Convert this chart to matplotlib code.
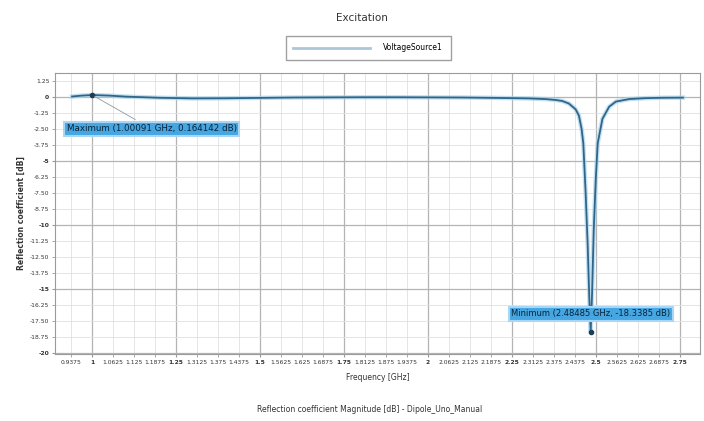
import numpy as np
import matplotlib.pyplot as plt
from matplotlib.ticker import MultipleLocator, FuncFormatter

# Frequency sweep (GHz) and reflection coefficient (dB)
freq = [0.94, 0.97, 1.00, 1.05, 1.10, 1.20, 1.30, 1.40, 1.50, 1.60, 1.70,
        1.80, 1.90, 2.00, 2.10, 2.20, 2.30, 2.35, 2.38, 2.40, 2.42, 2.44,
        2.45, 2.458, 2.463, 2.470, 2.476, 2.481, 2.485, 2.489, 2.494, 2.500,
        2.506, 2.52, 2.54, 2.56, 2.60, 2.65, 2.70, 2.76]
refl_db = [0.05, 0.12, 0.164, 0.12, 0.04, -0.05, -0.10, -0.09, -0.06, -0.03,
           -0.02, -0.01, -0.01, -0.02, -0.03, -0.06, -0.10, -0.15, -0.22,
           -0.30, -0.50, -0.95, -1.45, -2.50, -3.60, -7.50, -11.5, -15.8,
           -18.34, -15.5, -10.5, -6.5, -3.6, -1.7, -0.75, -0.35, -0.15, -0.08,
           -0.05, -0.04]

max_pt = (1.00, 0.164)
min_pt = (2.485, -18.34)
max_text = "Maximum (1.00091 GHz, 0.164142 dB)"
min_text = "Minimum (2.48485 GHz, -18.3385 dB)"

fig = plt.figure(figsize=(7.04, 4.21), dpi=100)
ax = fig.add_axes([0.078, 0.159, 0.916, 0.668])

ax.plot(freq, refl_db, color="#a8d4ee", lw=3.2, alpha=0.7, zorder=3)
ax.plot(freq, refl_db, color="#2f6688", lw=1.3, zorder=4, label="VoltageSource1")

ax.set_xlim(0.889, 2.81)
ax.set_ylim(-20.1, 1.9)

ax.xaxis.set_major_locator(MultipleLocator(0.25))
ax.xaxis.set_minor_locator(MultipleLocator(0.0625))
ax.yaxis.set_major_locator(MultipleLocator(5))
ax.yaxis.set_minor_locator(MultipleLocator(1.25))


def fmt(v, pos):
    if abs(v - round(v)) < 1e-9:
        return "%d" % round(v)
    return ("%.4f" % v).rstrip("0")


ax.xaxis.set_major_formatter(FuncFormatter(fmt))
ax.xaxis.set_minor_formatter(FuncFormatter(fmt))
ax.yaxis.set_major_formatter(FuncFormatter(fmt))
ax.yaxis.set_minor_formatter(FuncFormatter(lambda v, p: "%d" % v if v == int(v) else "%.2f" % v))

ax.tick_params(which="both", labelsize=4.3, length=2, color="#999999", pad=2,
               labelcolor="#333333")
for lbl in ax.get_xticklabels() + ax.get_yticklabels():
    lbl.set_fontweight("bold")

ax.grid(which="major", color="#b4b4b4", lw=0.9)
ax.grid(which="minor", color="#e0e0e0", lw=0.6)
ax.set_axisbelow(True)
for sp in ax.spines.values():
    sp.set_color("#9a9a9a")

# markers and annotations
ax.plot(*max_pt, marker="o", ms=3, color="#1d3d55", zorder=5)
ax.plot(*min_pt, marker="o", ms=3, color="#1d3d55", zorder=5)
box = dict(boxstyle="square,pad=0.3", fc="#45a6e2", ec="#a8d6f4", lw=1.5)
ax.annotate(max_text, xy=max_pt, xytext=(1.177, -2.48), fontsize=6.3,
            color="#0c2236", ha="center", va="center", bbox=box, zorder=6,
            arrowprops=dict(arrowstyle="-", color="#8a9aa6", lw=0.6))
ax.text(2.485, -16.95, min_text, fontsize=6.0, color="#0c2236",
        ha="center", va="center", bbox=box, zorder=6)

ax.set_xlabel("Frequency [GHz]", fontsize=5.5, color="#333333", labelpad=6)
ax.set_ylabel("Reflection coefficient [dB]", fontsize=5.5, fontweight="bold",
              color="#333333", labelpad=3)

fig.text(0.514, 0.958, "Excitation", fontsize=7.5, ha="center", va="center",
         color="#333333")
leg = fig.legend(loc="center", bbox_to_anchor=(0.523, 0.886), fontsize=5.5,
                 frameon=True, fancybox=False, handlelength=10,
                 handletextpad=1.8, borderpad=1.0, edgecolor="#888888")
leg.get_lines()[0].set_color("#a9c7d8")
leg.get_lines()[0].set_linewidth(2)
fig.text(0.525, 0.028, "Reflection coefficient Magnitude [dB] - Dipole_Uno_Manual",
         fontsize=5.5, ha="center", va="center", color="#333333")

fig.savefig("out.png", dpi=100)
